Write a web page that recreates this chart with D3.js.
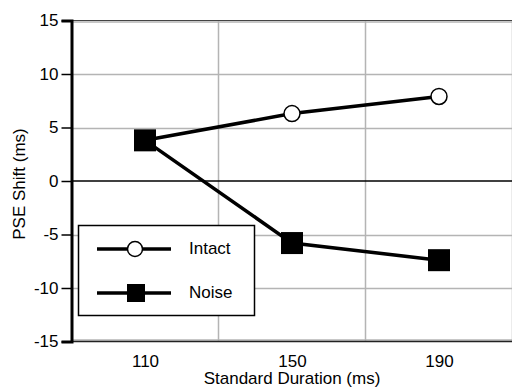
<!DOCTYPE html>
<html>
<head>
<meta charset="utf-8">
<script src="https://cdn.jsdelivr.net/npm/d3@7"></script>
<style>
  html, body { margin: 0; padding: 0; background: #fff; }
  svg { display: block; font-family: "Liberation Sans", Arial, Helvetica, sans-serif; }
</style>
</head>
<body>
<div id="chart"></div>
<script>
const durations = [110, 150, 190];
const intact = [3.8, 6.3, 7.9];
const noise = [3.8, -5.8, -7.4];
const yTicks = [-15, -10, -5, 0, 5, 10, 15];
const xGrid = [130, 170, 210];

const width = 512, height = 389;
const FONT = '"Liberation Sans", Arial, sans-serif';
const svg = d3.select('#chart').append('svg')
  .attr('width', width)
  .attr('height', height);

const x = d3.scaleLinear().domain([90, 210]).range([71.5, 512.5]);
const y = d3.scaleLinear().domain([-15, 15]).range([341.5, 20.5]);

// grid
const grid = svg.append('g');
grid.selectAll('line.h')
  .data(yTicks.filter(d => d !== 0 && Math.abs(d) !== 15))
  .join('line')
  .attr('x1', x(90)).attr('x2', width)
  .attr('y1', d => Math.round(y(d)) + 0.5).attr('y2', d => Math.round(y(d)) + 0.5)
  .attr('stroke', '#b4b4b4').attr('stroke-width', 1.5);
grid.selectAll('line.v')
  .data(xGrid)
  .join('line')
  .attr('x1', d => x(d)).attr('x2', d => x(d))
  .attr('y1', y(15)).attr('y2', y(-15))
  .attr('stroke', '#b4b4b4').attr('stroke-width', 1.5);

// top / bottom frame (double line)
svg.append('line').attr('x1', x(90)).attr('x2', width)
  .attr('y1', y(15) + 1.5).attr('y2', y(15) + 1.5).attr('stroke', '#b4b4b4').attr('stroke-width', 1.5);
svg.append('line').attr('x1', x(90)).attr('x2', width)
  .attr('y1', y(15)).attr('y2', y(15)).attr('stroke', '#444').attr('stroke-width', 1.2);
svg.append('line').attr('x1', x(90)).attr('x2', width)
  .attr('y1', y(-15) - 1.5).attr('y2', y(-15) - 1.5).attr('stroke', '#b4b4b4').attr('stroke-width', 1.5);
svg.append('line').attr('x1', x(90)).attr('x2', width)
  .attr('y1', y(-15)).attr('y2', y(-15)).attr('stroke', '#222').attr('stroke-width', 1.5);

// zero line
svg.append('line').attr('x1', x(90)).attr('x2', width)
  .attr('y1', y(0)).attr('y2', y(0)).attr('stroke', '#000').attr('stroke-width', 1.5);

// y axis
const yAxis = svg.append('g')
  .attr('transform', `translate(${x(90)},0)`)
  .call(d3.axisLeft(y).tickValues(yTicks).tickSize(10).tickPadding(3).tickFormat(d => String(d)));
yAxis.select('.domain').attr('stroke-width', 3);
yAxis.selectAll('.tick line').attr('stroke-width', 1.5);
yAxis.selectAll('.tick text').attr('font-size', 17).attr('fill', '#000')
  .attr('font-family', FONT);

// x tick labels
const xAxis = svg.append('g')
  .attr('transform', `translate(0,${y(-15)})`)
  .call(d3.axisBottom(x).tickValues(durations).tickSize(0).tickPadding(13));
xAxis.select('.domain').remove();
xAxis.selectAll('.tick text').attr('font-size', 17).attr('fill', '#000')
  .attr('font-family', FONT);

// axis titles
svg.append('text')
  .attr('x', x(150)).attr('y', 384)
  .attr('text-anchor', 'middle').attr('font-size', 17)
  .text('Standard Duration (ms)');
svg.append('text')
  .attr('transform', `translate(25,184) rotate(-90)`)
  .attr('text-anchor', 'middle').attr('font-size', 17)
  .text('PSE Shift (ms)');

// lines
const line = d3.line().x((d, i) => x(durations[i])).y(d => y(d));
svg.append('path').datum(intact).attr('d', line)
  .attr('fill', 'none').attr('stroke', '#000').attr('stroke-width', 3.5);
svg.append('path').datum(noise).attr('d', line)
  .attr('fill', 'none').attr('stroke', '#000').attr('stroke-width', 3.5);

// markers
svg.append('g').selectAll('circle')
  .data(intact)
  .join('circle')
  .attr('cx', (d, i) => x(durations[i])).attr('cy', d => y(d))
  .attr('r', 8).attr('fill', '#fff').attr('stroke', '#000').attr('stroke-width', 1.5);
svg.append('g').selectAll('rect')
  .data(noise)
  .join('rect')
  .attr('x', (d, i) => x(durations[i]) - 11).attr('y', d => y(d) - 11)
  .attr('width', 22).attr('height', 22).attr('fill', '#000');

// legend
const lg = svg.append('g');
lg.append('rect').attr('x', 78.5).attr('y', 225.5).attr('width', 176).attr('height', 90)
  .attr('fill', '#fff').attr('stroke', '#000').attr('stroke-width', 1.5);
const rows = [{ name: 'Intact', y: 249, shape: 'circle' }, { name: 'Noise', y: 293, shape: 'square' }];
rows.forEach(r => {
  lg.append('line').attr('x1', 97).attr('x2', 171).attr('y1', r.y).attr('y2', r.y)
    .attr('stroke', '#000').attr('stroke-width', 3.5);
  if (r.shape === 'circle') {
    lg.append('circle').attr('cx', 135).attr('cy', r.y).attr('r', 7.5)
      .attr('fill', '#fff').attr('stroke', '#000').attr('stroke-width', 1.5);
  } else {
    lg.append('rect').attr('x', 127).attr('y', r.y - 9).attr('width', 18).attr('height', 18).attr('fill', '#000');
  }
  lg.append('text').attr('x', 189).attr('y', r.y + 5).attr('font-size', 17).text(r.name);
});
</script>
</body>
</html>
